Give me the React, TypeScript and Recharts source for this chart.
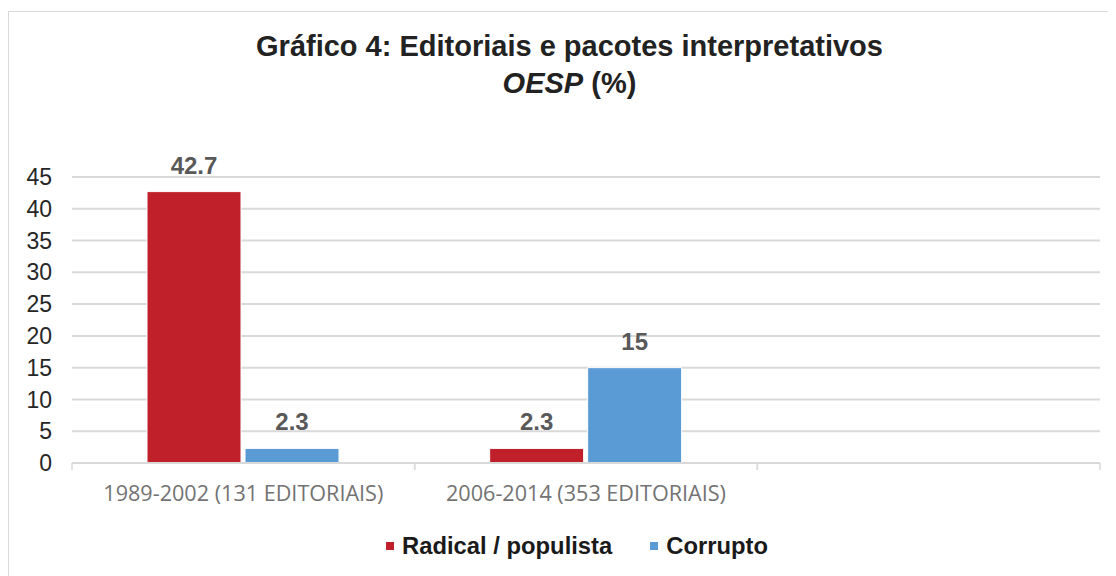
import React from 'react';
import { BarChart, Bar, XAxis, YAxis, CartesianGrid, LabelList } from 'recharts';

const CATEGORIES = ['1989-2002 (131 EDITORIAIS)', '2006-2014 (353 EDITORIAIS)', ''];
const RADICAL = [42.7, 2.3, null];
const CORRUPTO = [2.3, 15, null];
const Y_TICKS = [0, 5, 10, 15, 20, 25, 30, 35, 40, 45];
const SERIES = [
  { key: 'radical', name: 'Radical / populista', color: '#C0202A' },
  { key: 'corrupto', name: 'Corrupto', color: '#5B9BD5' },
];

const data = CATEGORIES.map((c, i) => ({ cat: c, radical: RADICAL[i], corrupto: CORRUPTO[i] }));

const FONT = '"Liberation Sans", Arial, sans-serif';

const XTick = (props: any) => {
  const { x, y, payload, width } = props;
  const half = (typeof width === 'number' && width > 0 ? width : 1028) / CATEGORIES.length / 2;
  return (
    <g>
      <line x1={x - half} x2={x - half} y1={y - 6} y2={y + 1} stroke="#d9d9d9" strokeWidth={1.5} />
      <line x1={x + half} x2={x + half} y1={y - 6} y2={y + 1} stroke="#d9d9d9" strokeWidth={1.5} />
      <text x={x} y={y + 32} textAnchor="middle" fill="#737373" fontSize={21.6} fontFamily='"Open Sans", sans-serif'>
        {payload.value}
      </text>
    </g>
  );
};

export default function App() {
  return (
    <div style={{ paddingTop: 3 }}>
      <div
        style={{
          position: 'relative',
          width: 1108,
          height: 565,
          boxSizing: 'border-box',
          borderTop: '1px solid #d9d9d9',
          borderLeft: '1px solid #d9d9d9',
          overflow: 'hidden',
          background: '#fff',
        }}
      >
        <div
          style={{
            position: 'absolute',
            top: 15.5,
            left: 560.5,
            transform: 'translateX(-50%)',
            whiteSpace: 'nowrap',
            textAlign: 'center',
            fontFamily: FONT,
            fontWeight: 'bold',
            fontSize: 29,
            lineHeight: '37px',
            color: '#222',
          }}
        >
          <div>Gráfico 4: Editoriais e pacotes interpretativos</div>
          <div>
            <i>OESP</i> (%)
          </div>
        </div>
        <div style={{ position: 'absolute', left: 0, top: 0 }}>
          <BarChart
            width={1107}
            height={564}
            data={data}
            margin={{ top: 165, right: 16, left: 0, bottom: 73 }}
            barSize={94}
            barGap={4}
          >
            <CartesianGrid vertical={false} stroke="#d9d9d9" strokeWidth={2} />
            <XAxis
              dataKey="cat"
              height={40}
              tickLine={false}
              tickMargin={0}
              axisLine={{ stroke: '#d9d9d9', strokeWidth: 2 }}
              tick={<XTick />}
              interval={0}
            />
            <YAxis
              width={63}
              domain={[0, 45]}
              ticks={Y_TICKS}
              axisLine={false}
              tickLine={false}
              tickMargin={14}
              tick={{ fill: '#262626', fontSize: 23, fontFamily: FONT }}
            />
            {SERIES.map((s) => (
              <Bar key={s.key} dataKey={s.key} name={s.name} fill={s.color} stroke="#fff" strokeWidth={1} isAnimationActive={false}>
                <LabelList
                  dataKey={s.key}
                  position="top"
                  offset={18}
                  fill="#595959"
                  fontSize={24}
                  fontWeight="bold"
                  fontFamily={FONT}
                />
              </Bar>
            ))}
          </BarChart>
        </div>
        <div
          style={{
            position: 'absolute',
            top: 521,
            left: 377,
            display: 'flex',
            alignItems: 'center',
            fontFamily: FONT,
            fontWeight: 'bold',
            fontSize: 23.8,
            lineHeight: '26px',
            color: '#1a1a1a',
            whiteSpace: 'nowrap',
          }}
        >
          {SERIES.map((s, i) => (
            <div key={s.key} style={{ display: 'flex', alignItems: 'center', marginLeft: i === 0 ? 0 : 38 }}>
              <span style={{ width: 8, height: 8, background: s.color, display: 'inline-block', marginRight: 8 }} />
              <span>{s.name}</span>
            </div>
          ))}
        </div>
      </div>
    </div>
  );
}
